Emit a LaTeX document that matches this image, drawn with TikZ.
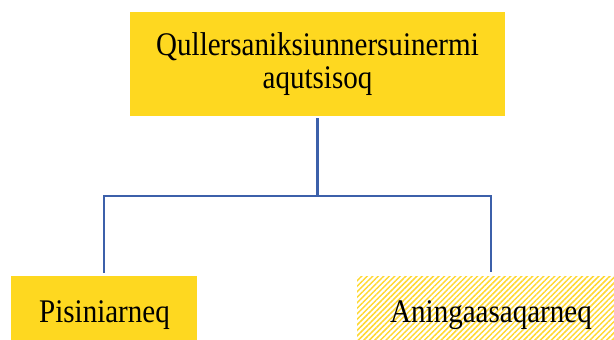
\documentclass[tikz,border=0pt]{standalone}
\usepackage{fontspec}
\setmainfont{Liberation Serif}[FakeStretch=0.88]
\usetikzlibrary{patterns.meta}
\definecolor{boxyellow}{RGB}{254,216,32}
\definecolor{hatchyellow}{RGB}{255,216,50}
\definecolor{connblue}{RGB}{60,96,170}
\tikzset{
  x=1pt, y=1pt,
  boxtxt/.style={font=\fontsize{33}{33}\selectfont, text=black, inner sep=0pt},
  solidbox/.style={boxtxt, fill=boxyellow},
  hatchbox/.style={boxtxt, pattern={Lines[angle=45, distance=3.9pt, line width=1.5pt]}, pattern color=hatchyellow},
  conn/.style={draw=connblue, line width=2.4pt}
}
\begin{document}
\begin{tikzpicture}
\useasboundingbox (0,0) rectangle (614,-340);
\node[solidbox, minimum width=375pt, minimum height=104pt, align=center] (top) at (317.5,-64) {Qullersaniksiunnersuinermi\\aqutsisoq};
\node[solidbox, minimum width=186pt, minimum height=66pt] (pl) at (104,-309) {};
\node[hatchbox, minimum width=268pt, minimum height=66pt] (pr) at (491,-309) {};
\node[boxtxt, anchor=base] (tl) at (104.5,-322) {Pisiniarneq};
\node[boxtxt, anchor=base] (tr) at (491,-322) {Aningaasaqarneq};
\coordinate (j) at (317.5,-196);
\draw[conn, shorten <=2pt] (top.south) -- (j);
\draw[conn, shorten <=3pt, shorten >=3pt] (pl.north) |- (j) -| (pr.north);
\end{tikzpicture}
\end{document}
